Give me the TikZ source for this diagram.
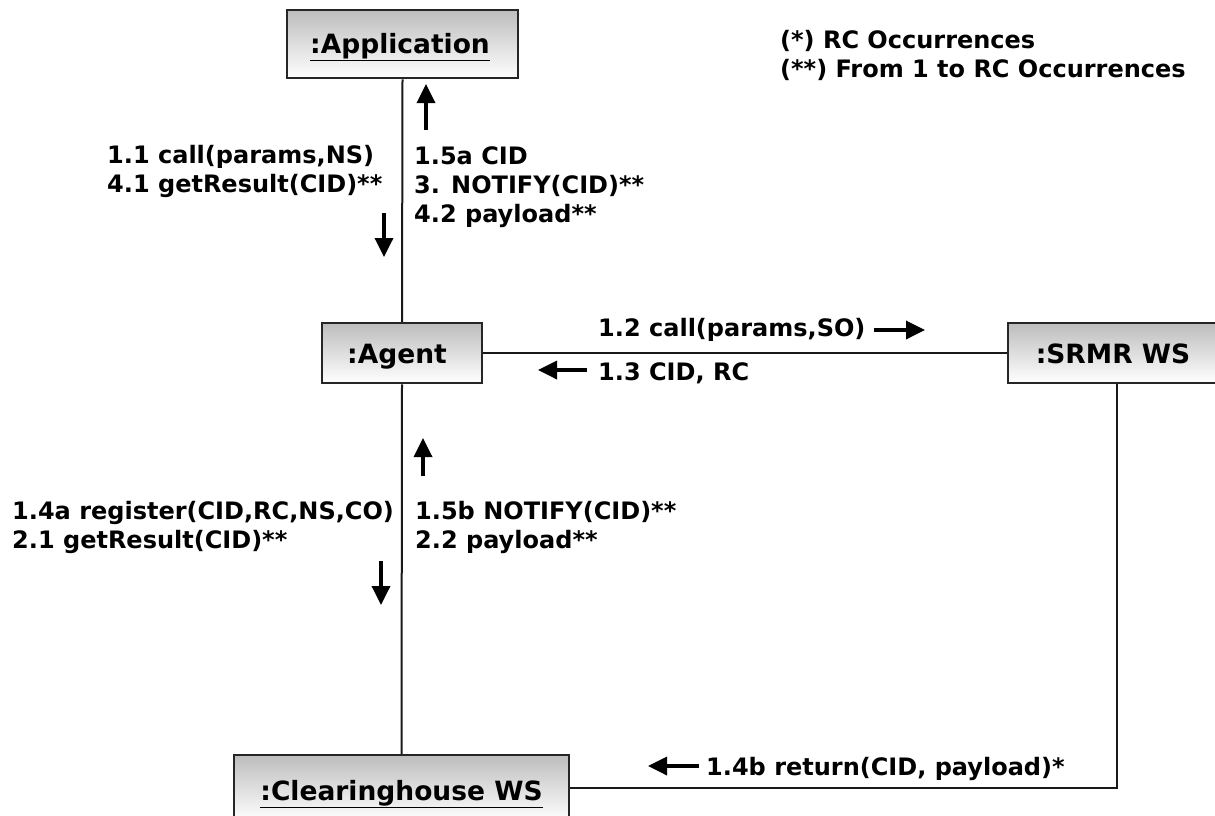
\documentclass[tikz,border=0pt]{standalone}
\usepackage{fontspec}
\setmainfont{DejaVu Sans}
\usetikzlibrary{arrows.meta}
\begin{document}
\begin{tikzpicture}[x=1pt,y=-1pt,
  obj/.style={draw=black!85,line width=2.5pt,top color=black!26,bottom color=white,inner sep=0pt},
  objtext/.style={anchor=base,inner sep=0pt,font=\fontsize{26.5}{30}\selectfont\bfseries},
  lbl/.style={anchor=base west,align=left,inner sep=0pt,font=\fontsize{24}{29}\selectfont\bfseries},
  conn/.style={line width=2pt,black!90},
  msg/.style={line width=3.5pt,-{Triangle[length=19pt,width=18pt]}}]
\useasboundingbox (0,0) rectangle (1215,815);
\clip (0,0) rectangle (1215,815);
\fill[white] (0,0) rectangle (1215,815);
% objects
\node[obj,minimum width=231pt,minimum height=68pt] (app) at (402.5,44) {};
\node[obj,minimum width=160pt,minimum height=60pt] (agent) at (402,353) {};
\node[obj,minimum width=217pt,minimum height=60pt] (srmr) at (1116.5,353) {};
\node[obj,minimum width=335pt,minimum height=66pt] (ch) at (401.5,788) {};
\node[objtext] (appt) at (400,53) {\underline{:Application}};
\node[objtext] (agentt) at (397,363) {:Agent};
\node[objtext] (srmrt) at (1113,363) {:SRMR WS};
\node[objtext] (cht) at (401.5,800) {\underline{:Clearinghouse WS}};
% links
\draw[conn] (app.south) -- (agent.north);
\draw[conn] (agent.south) -- (ch.north);
\draw[conn] (agent.east) -- (srmr.west);
\draw[conn] (srmr.south) |- (ch.east);
% message arrows
\coordinate (a1s) at (426,130); \coordinate (a1e) at (426,84);
\draw[msg] (a1s) -- (a1e);
\coordinate (a2s) at (384,213); \coordinate (a2e) at (384,257);
\draw[msg] (a2s) -- (a2e);
\coordinate (a3s) at (874,330); \coordinate (a3e) at (925,330);
\draw[msg] (a3s) -- (a3e);
\coordinate (a4s) at (587,370); \coordinate (a4e) at (538,370);
\draw[msg] (a4s) -- (a4e);
\coordinate (a5s) at (423,476); \coordinate (a5e) at (423,438);
\draw[msg] (a5s) -- (a5e);
\coordinate (a6s) at (381,561); \coordinate (a6e) at (381,605);
\draw[msg] (a6s) -- (a6e);
\coordinate (a7s) at (699,766); \coordinate (a7e) at (648,766);
\draw[msg] (a7s) -- (a7e);
% labels (anchor = baseline of the last line)
\node[lbl] (l1) at (107,192) {1.1 call(params,NS)\\4.1 getResult(CID)**};
\node[lbl] (l2) at (414,222) {1.5a CID\\3. NOTIFY(CID)**\\4.2 payload**};
\node[lbl] (l3) at (598,336) {1.2 call(params,SO)};
\node[lbl] (l4) at (598,380) {1.3 CID, RC};
\node[lbl] (l5) at (12,548) {1.4a register(CID,RC,NS,CO)\\2.1 getResult(CID)**};
\node[lbl] (l6) at (415,548) {1.5b NOTIFY(CID)**\\2.2 payload**};
\node[lbl] (l7) at (706,775) {1.4b return(CID, payload)*};
\node[lbl] (note) at (780,77) {(*) RC Occurrences\\(**) From 1 to RC Occurrences};
\end{tikzpicture}
\end{document}
